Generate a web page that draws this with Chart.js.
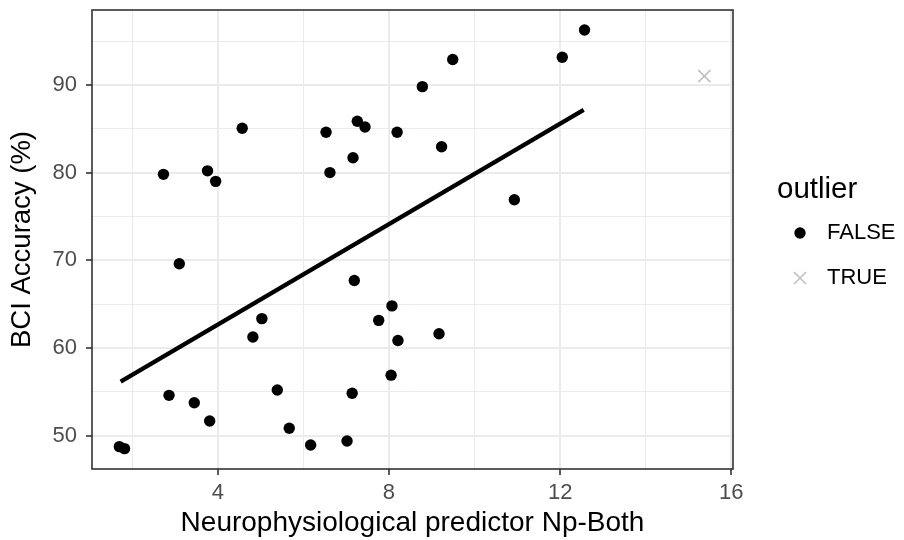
<!DOCTYPE html>
<html>
<head>
<meta charset="utf-8">
<script src="https://cdn.jsdelivr.net/npm/chart.js@4"></script>
<style>
  html, body { margin: 0; padding: 0; background: #fff; }
  canvas { display: block; }
</style>
</head>
<body>
<canvas id="scatter" width="904" height="540"></canvas>
<script>
// Np-Both predictor vs BCI accuracy, regular subjects
const npBoth = [2.73, 3.76, 3.95, 4.57, 6.53, 6.62, 7.26, 7.44, 7.16, 8.19,
                8.78, 12.57, 12.05, 9.49, 9.23, 10.93,
                3.10, 7.19, 8.07, 7.76, 8.21, 5.03, 4.82, 8.05, 2.86, 3.45,
                3.81, 5.39, 7.14, 5.67, 6.17, 7.02, 1.70, 1.82, 9.17];
const accuracy = [79.8, 80.2, 79.0, 85.05, 84.6, 80.0, 85.85, 85.2, 81.7, 84.6,
                  89.8, 96.26, 93.15, 92.9, 82.95, 76.9,
                  69.6, 67.7, 64.8, 63.15, 60.85, 63.35, 61.25, 56.9, 54.6, 53.76,
                  51.68, 55.2, 54.83, 50.84, 48.94, 49.4, 48.75, 48.52, 61.63];

// the single flagged subject
const outlierX = [15.37];
const outlierY = [91.0];

// linear fit endpoints
const fitX = [1.73, 12.55];
const fitY = [56.16, 87.14];

const xTicks = [4, 8, 12, 16];
const yTicks = [50, 60, 70, 80, 90];

const toPoints = (xs, ys) => xs.map((x, i) => ({ x: x, y: ys[i] }));

const GRID = '#EBEBEB';
const TEXT_GREY = '#4D4D4D';
const FONT = "'Liberation Sans', Arial, sans-serif";

function isMajor(value, list) {
    return list.some(v => Math.abs(v - value) < 1e-6);
}

// panel frame + legend, drawn after the chart
const panelAndLegend = {
    id: 'panelAndLegend',
    afterDraw(chart) {
        const ctx = chart.ctx;
        const a = chart.chartArea;
        ctx.save();
        ctx.strokeStyle = '#333333';
        ctx.lineWidth = 1.6;
        ctx.strokeRect(a.left, a.top, a.right - a.left, a.bottom - a.top);

        // legend
        ctx.fillStyle = '#000';
        ctx.textBaseline = 'middle';
        ctx.textAlign = 'left';
        ctx.font = '29.5px ' + FONT;
        ctx.fillText('outlier', 777, 190);

        ctx.font = '22px ' + FONT;
        ctx.fillText('FALSE', 827, 233);
        ctx.fillText('TRUE', 827, 278);

        ctx.beginPath();
        ctx.arc(800, 233, 5.7, 0, Math.PI * 2);
        ctx.fill();

        ctx.strokeStyle = '#BEBEBE';
        ctx.lineWidth = 1.5;
        ctx.beginPath();
        ctx.moveTo(794, 272); ctx.lineTo(806, 284);
        ctx.moveTo(806, 272); ctx.lineTo(794, 284);
        ctx.stroke();
        ctx.restore();
    }
};

new Chart(document.getElementById('scatter'), {
    type: 'scatter',
    data: {
        datasets: [
            {
                label: 'fit',
                type: 'line',
                data: toPoints(fitX, fitY),
                borderColor: '#000',
                borderWidth: 4.3,
                pointRadius: 0,
                fill: false,
                order: 0
            },
            {
                label: 'FALSE',
                data: toPoints(npBoth, accuracy),
                backgroundColor: '#000',
                borderWidth: 0,
                pointRadius: 5.7,
                order: 1
            },
            {
                label: 'TRUE',
                data: toPoints(outlierX, outlierY),
                pointStyle: 'crossRot',
                borderColor: '#BEBEBE',
                borderWidth: 1.5,
                pointRadius: 8.5,
                order: 1
            }
        ]
    },
    options: {
        responsive: false,
        animation: false,
        layout: { padding: { left: 0, top: 10, right: 171, bottom: 0 } },
        plugins: {
            legend: { display: false },
            tooltip: { enabled: false }
        },
        scales: {
            x: {
                type: 'linear',
                min: 1.06,
                max: 16.04,
                afterFit: s => { s.height = 71; s.paddingLeft = 0; s.paddingRight = 0; },
                border: { display: false },
                grid: {
                    color: c => GRID,
                    lineWidth: c => isMajor(c.tick.value, xTicks) ? 2 : 1,
                    tickColor: c => isMajor(c.tick.value, xTicks) ? '#333333' : 'rgba(0,0,0,0)',
                    tickLength: 6,
                    tickWidth: 1.6
                },
                ticks: {
                    stepSize: 2,
                    includeBounds: false,
                    autoSkip: false,
                    maxRotation: 0,
                    padding: 5,
                    color: TEXT_GREY,
                    font: { family: FONT, size: 22 },
                    callback: v => isMajor(v, xTicks) ? String(v) : ''
                },
                title: {
                    display: true,
                    text: 'Neurophysiological predictor Np-Both',
                    color: '#000',
                    font: { family: FONT, size: 28 },
                    padding: { top: 0, bottom: 0 }
                }
            },
            y: {
                type: 'linear',
                min: 46.2,
                max: 98.54,
                afterFit: s => { s.width = 92; s.paddingTop = 0; s.paddingBottom = 0; },
                border: { display: false },
                grid: {
                    color: c => GRID,
                    lineWidth: c => isMajor(c.tick.value, yTicks) ? 2 : 1,
                    tickColor: c => isMajor(c.tick.value, yTicks) ? '#333333' : 'rgba(0,0,0,0)',
                    tickLength: 6,
                    tickWidth: 1.6
                },
                ticks: {
                    stepSize: 5,
                    includeBounds: false,
                    autoSkip: false,
                    padding: 9,
                    color: TEXT_GREY,
                    font: { family: FONT, size: 22 },
                    callback: v => isMajor(v, yTicks) ? String(v) : ''
                },
                title: {
                    display: true,
                    text: 'BCI Accuracy (%)',
                    color: '#000',
                    font: { family: FONT, size: 27.5 },
                    padding: { top: 6, bottom: 0 }
                }
            }
        }
    },
    plugins: [panelAndLegend]
});
</script>
</body>
</html>
